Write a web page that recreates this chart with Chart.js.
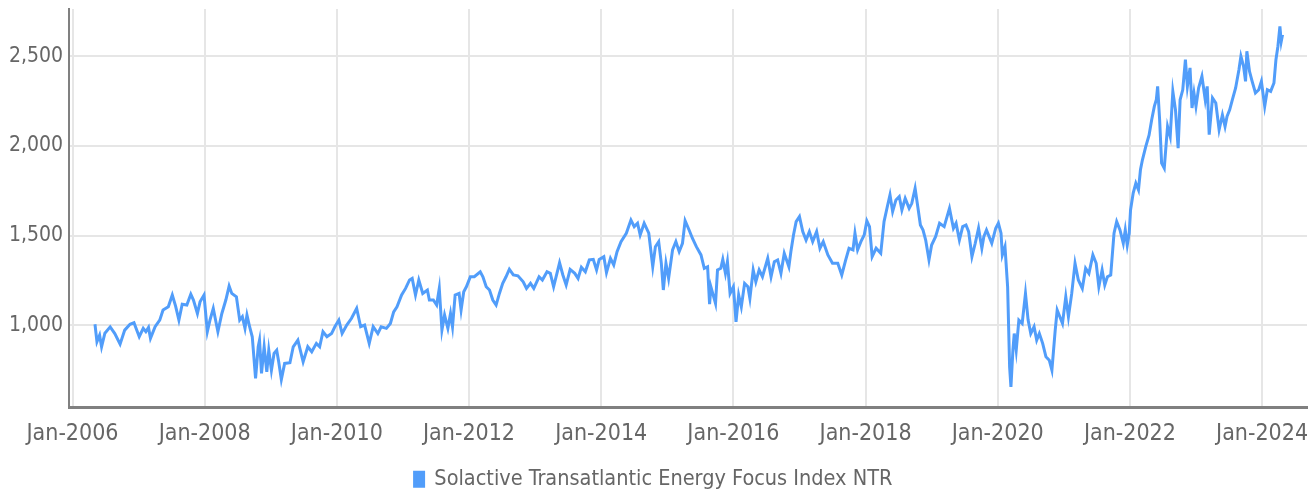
<!DOCTYPE html>
<html>
<head>
<meta charset="utf-8">
<script src="https://cdn.jsdelivr.net/npm/chart.js@4.4.1/dist/chart.umd.min.js"></script>
<style>
  html, body { margin: 0; padding: 0; background: #fff; }
  #wrap { width: 1316px; height: 493px; }
</style>
</head>
<body>
<div id="wrap"><canvas id="indexChart"></canvas></div>
<script>
// index level (x = decimal year)
let seriesName = "Solactive Transatlantic Energy Focus Index NTR";
let yTicks = [1000, 1500, 2000, 2500];
let xTickYears = [2006, 2008, 2010, 2012, 2014, 2016, 2018, 2020, 2022, 2024];

let years = [
	2006.34, 2006.37, 2006.41, 2006.44, 2006.49, 2006.57, 2006.64, 2006.72, 2006.79, 2006.87, 2006.93,
	2007.01, 2007.07, 2007.11, 2007.15, 2007.18, 2007.25, 2007.32, 2007.37, 2007.45, 2007.51, 2007.56,
	2007.61, 2007.66, 2007.73, 2007.79, 2007.83, 2007.89, 2007.93, 2007.99,
	2008.04, 2008.08, 2008.13, 2008.20, 2008.26, 2008.32, 2008.37, 2008.41, 2008.48, 2008.53, 2008.57,
	2008.61, 2008.64, 2008.68, 2008.72, 2008.77, 2008.81, 2008.83, 2008.86, 2008.90, 2008.94, 2008.97,
	2009.01, 2009.05, 2009.09, 2009.12, 2009.16, 2009.21, 2009.29, 2009.34, 2009.41, 2009.49, 2009.56,
	2009.62, 2009.69, 2009.74, 2009.79, 2009.85, 2009.92, 2009.97,
	2010.03, 2010.08, 2010.15, 2010.22, 2010.30, 2010.36, 2010.42, 2010.49, 2010.55, 2010.62, 2010.67,
	2010.75, 2010.81, 2010.86, 2010.91, 2010.98,
	2011.04, 2011.10, 2011.14, 2011.19, 2011.24, 2011.30, 2011.37, 2011.40, 2011.46, 2011.51, 2011.55,
	2011.59, 2011.63, 2011.68, 2011.72, 2011.75, 2011.79, 2011.85, 2011.88, 2011.92, 2011.96,
	2012.02, 2012.08, 2012.17, 2012.21, 2012.26, 2012.31, 2012.36, 2012.41, 2012.46, 2012.51, 2012.56,
	2012.61, 2012.67, 2012.74, 2012.82, 2012.87, 2012.93, 2012.98,
	2013.06, 2013.11, 2013.18, 2013.23, 2013.28, 2013.37, 2013.42, 2013.47, 2013.53, 2013.60, 2013.65,
	2013.70, 2013.76, 2013.82, 2013.88, 2013.93, 2013.97,
	2014.04, 2014.08, 2014.14, 2014.19, 2014.24, 2014.30, 2014.38, 2014.45, 2014.50, 2014.55, 2014.59,
	2014.65, 2014.72, 2014.78, 2014.82, 2014.87, 2014.91, 2014.94, 2014.98,
	2015.02, 2015.08, 2015.13, 2015.18, 2015.23, 2015.27, 2015.33, 2015.38, 2015.44, 2015.51, 2015.56,
	2015.61, 2015.64, 2015.66, 2015.73, 2015.76, 2015.81, 2015.84, 2015.88, 2015.91, 2015.95,
	2016.00, 2016.02, 2016.04, 2016.08, 2016.12, 2016.17, 2016.22, 2016.25, 2016.30, 2016.34, 2016.39,
	2016.44, 2016.52, 2016.57, 2016.62, 2016.67, 2016.72, 2016.77, 2016.84, 2016.87, 2016.91, 2016.95,
	2017.00, 2017.05, 2017.10, 2017.15, 2017.20, 2017.26, 2017.31, 2017.36, 2017.43, 2017.50, 2017.58,
	2017.64, 2017.70, 2017.75, 2017.81, 2017.84, 2017.88, 2017.93, 2017.98,
	2018.02, 2018.06, 2018.10, 2018.16, 2018.23, 2018.28, 2018.33, 2018.37, 2018.41, 2018.46, 2018.51,
	2018.55, 2018.60, 2018.66, 2018.70, 2018.75, 2018.79, 2018.83, 2018.87, 2018.91, 2018.96,
	2019.00, 2019.06, 2019.12, 2019.19, 2019.27, 2019.33, 2019.37, 2019.42, 2019.47, 2019.52, 2019.56,
	2019.61, 2019.66, 2019.71, 2019.76, 2019.79, 2019.83, 2019.87, 2019.91, 2019.97,
	2020.01, 2020.05, 2020.07, 2020.11, 2020.15, 2020.18, 2020.20, 2020.23, 2020.25, 2020.28, 2020.32,
	2020.37, 2020.42, 2020.46, 2020.50, 2020.55, 2020.59, 2020.63, 2020.68, 2020.73, 2020.78, 2020.82,
	2020.87, 2020.90, 2020.94, 2020.98,
	2021.03, 2021.07, 2021.12, 2021.17, 2021.22, 2021.28, 2021.33, 2021.38, 2021.44, 2021.49, 2021.53,
	2021.58, 2021.62, 2021.66, 2021.71, 2021.76, 2021.80, 2021.85, 2021.90, 2021.93, 2021.96, 2021.99,
	2022.01, 2022.05, 2022.09, 2022.13, 2022.16, 2022.19, 2022.24, 2022.29, 2022.33, 2022.37, 2022.40,
	2022.42, 2022.45, 2022.48, 2022.52, 2022.57, 2022.61, 2022.65, 2022.69, 2022.73, 2022.76, 2022.80,
	2022.84, 2022.87, 2022.91, 2022.94, 2022.97,
	2023.00, 2023.04, 2023.09, 2023.14, 2023.17, 2023.20, 2023.25, 2023.30, 2023.35, 2023.40, 2023.44,
	2023.47, 2023.51, 2023.55, 2023.60, 2023.65, 2023.68, 2023.72, 2023.75, 2023.77, 2023.81, 2023.85,
	2023.90, 2023.95, 2023.99,
	2024.04, 2024.08, 2024.13, 2024.18, 2024.21, 2024.24, 2024.27, 2024.29, 2024.31
];

let values = [
	1005, 907, 944, 879, 955, 990, 953, 894, 972, 1005, 1013,
	935, 982, 963, 987, 926, 991, 1028, 1084, 1102, 1168, 1106,
	1028, 1117, 1112, 1173, 1140, 1065, 1130, 1168,
	963, 1028, 1093, 963, 1065, 1140, 1218, 1177, 1158, 1028, 1047,
	982, 1056, 991, 935, 702, 879, 916, 730, 879, 739, 860,
	748, 842, 860, 795, 696, 786, 790, 879, 916, 795, 879,
	851, 898, 879, 963, 935, 953, 991,
	1028, 953, 1000, 1037, 1093, 991, 1000, 898, 991, 953, 991,
	982, 1009, 1074, 1102, 1168,
	1205, 1252, 1261, 1168, 1252, 1177, 1196, 1140, 1140, 1112, 1205,
	972, 1056, 982, 1065, 991, 1168, 1177, 1084, 1186, 1214,
	1270, 1270, 1298, 1270, 1214, 1196, 1140, 1112, 1177, 1233, 1270,
	1312, 1280, 1275, 1242, 1205, 1233, 1205,
	1270, 1252, 1298, 1289, 1214, 1348, 1280, 1224, 1311, 1289, 1261,
	1323, 1298, 1364, 1367, 1308, 1367,
	1382, 1293, 1373, 1336, 1410, 1466, 1513, 1587, 1550, 1569, 1503,
	1569, 1513, 1326, 1438, 1466, 1345, 1196, 1345,
	1261, 1420, 1466, 1410, 1457, 1583, 1531, 1485, 1438, 1392, 1317,
	1326, 1117, 1214, 1121, 1308, 1317, 1367, 1289, 1354, 1177,
	1214, 1121, 1018, 1168, 1102, 1233, 1214, 1149, 1308, 1242, 1308,
	1270, 1373, 1270, 1354, 1364, 1289, 1401, 1326, 1410, 1503, 1578,
	1606, 1522, 1475, 1522, 1466, 1522, 1429, 1466, 1392, 1345, 1345,
	1280, 1364, 1429, 1420, 1513, 1420, 1466, 1503,
	1582, 1550, 1382, 1429, 1401, 1578, 1662, 1727, 1634, 1699, 1718,
	1643, 1708, 1652, 1680, 1764, 1662, 1559, 1531, 1475, 1364,
	1447, 1494, 1569, 1550, 1652, 1541, 1569, 1475, 1550, 1559, 1522,
	1382, 1457, 1541, 1429, 1494, 1531, 1494, 1457, 1541,
	1569, 1513, 1392, 1438, 1214, 767, 655, 860, 953, 860, 1028,
	1009, 1177, 1028, 953, 991, 916, 953, 898, 823, 804, 748,
	972, 1084, 1047, 1009,
	1158, 1047, 1177, 1345, 1252, 1205, 1317, 1289, 1392, 1345, 1214,
	1308, 1224, 1270, 1280, 1513, 1578, 1531, 1457, 1531, 1447, 1513,
	1643, 1737, 1792, 1755, 1867, 1923, 1997, 2060, 2147, 2221, 2258,
	2333, 2147, 1904, 1876, 2109, 2053, 2305, 2202, 1988, 2258, 2314,
	2482, 2333, 2436, 2212, 2296,
	2221, 2324, 2389, 2258, 2333, 2063, 2268, 2240, 2091, 2174, 2109,
	2165, 2202, 2258, 2324, 2426, 2501, 2445, 2361, 2529, 2417, 2361,
	2296, 2314, 2361,
	2221, 2314, 2305, 2352, 2482, 2557, 2668, 2584, 2622
];

let fontFamily = "'Liberation Sans Narrow', 'DejaVu Sans Condensed', sans-serif";
let textColor = "#666666";

let points = [];
for (let i = 0; i < years.length; i++) {
	points.push({ x: years[i], y: values[i] });
}

let config = {
	type: 'line',
	data: {
		datasets: [{
			label: seriesName,
			data: points,
			borderColor: '#519dfa',
			backgroundColor: '#519dfa',
			borderWidth: 3,
			pointRadius: 0,
			tension: 0,
		}]
	},
	options: {
		responsive: true,
		maintainAspectRatio: false,
		animation: false,
		layout: { padding: { left: 0, right: 9, top: 9, bottom: -7 } },
		plugins: {
			tooltip: { enabled: false },
			legend: {
				position: 'bottom',
				labels: {
					boxWidth: 9,
					boxHeight: 14,
					padding: 4,
					color: textColor,
					font: { family: fontFamily, size: 21.5 },
				}
			}
		},
		scales: {
			x: {
				type: 'linear',
				min: 2005.947,
				max: 2024.68,
				afterBuildTicks: function (scale) {
					scale.ticks = xTickYears.map(function (v) { return { value: v }; });
				},
				afterFit: function (scale) {
					scale.height = 57;
					scale.paddingLeft = 0;
					scale.paddingRight = 0;
				},
				ticks: {
					autoSkip: false,
					maxRotation: 0,
					padding: 13,
					color: textColor,
					font: { family: fontFamily, size: 23 },
					callback: function (value) { return 'Jan-' + value; }
				},
				grid: {
					color: '#e6e6e6',
					lineWidth: 2,
					drawTicks: false,
				},
				border: { color: '#808080', width: 3 }
			},
			y: {
				min: 540,
				max: 2765,
				afterBuildTicks: function (scale) {
					scale.ticks = yTicks.map(function (v) { return { value: v }; });
				},
				afterFit: function (scale) {
					scale.width = 69;
					scale.paddingTop = 0;
					scale.paddingBottom = 0;
				},
				ticks: {
					padding: 6,
					color: textColor,
					font: { family: fontFamily, size: 21 },
					callback: function (value) { return value.toLocaleString('en-US'); }
				},
				grid: {
					color: '#e6e6e6',
					lineWidth: 2,
					drawTicks: false,
				},
				border: { color: '#808080', width: 2 }
			}
		}
	}
};

let ctx = document.getElementById('indexChart').getContext('2d');
let indexChart = new Chart(ctx, config);
</script>
</body>
</html>
